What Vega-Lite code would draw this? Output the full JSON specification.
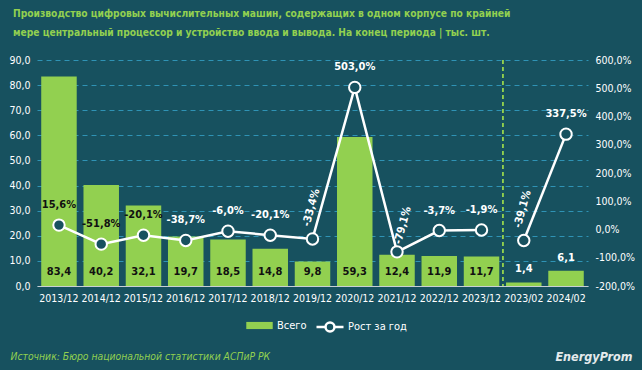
{
  "$schema": "https://vega.github.io/schema/vega-lite/v6.json",
  "autosize": "none",
  "width": 551,
  "height": 226,
  "padding": {"left": 37, "top": 60, "right": 54, "bottom": 84},
  "background": "#17515f",
  "title": {
    "text": ["Производство цифровых вычислительных машин, содержащих в одном корпусе по крайней", "мере центральный процессор и устройство ввода и вывода. На конец периода | тыс. шт."],
    "anchor": "start",
    "frame": "group",
    "dx": -24,
    "offset": 17,
    "font": "DejaVu Sans Condensed, sans-serif",
    "fontSize": 10.2,
    "fontWeight": "bold",
    "color": "#92D050",
    "lineHeight": 19
  },
  "config": {
    "locale": {"number": {"decimal": ",", "thousands": " ", "grouping": [3], "currency": ["", ""], "minus": "-"}},
    "view": {"stroke": null},
    "font": "DejaVu Sans Condensed, sans-serif",
    "axis": {"labelFont": "DejaVu Sans Condensed, sans-serif", "labelColor": "#ffffff", "labelFontSize": 10.5, "ticks": false},
    "legend": {"labelFont": "DejaVu Sans Condensed, sans-serif", "labelColor": "#ffffff", "labelFontSize": 11}
  },
  "data": {"values": [
    {"period": "2013/12", "value": 83.4, "pct": 0.156, "series": "year"},
    {"period": "2014/12", "value": 40.2, "pct": -0.518, "series": "year"},
    {"period": "2015/12", "value": 32.1, "pct": -0.201, "series": "year"},
    {"period": "2016/12", "value": 19.7, "pct": -0.387, "series": "year"},
    {"period": "2017/12", "value": 18.5, "pct": -0.06, "series": "year"},
    {"period": "2018/12", "value": 14.8, "pct": -0.201, "series": "year"},
    {"period": "2019/12", "value": 9.8, "pct": -0.334, "series": "year"},
    {"period": "2020/12", "value": 59.3, "pct": 5.03, "series": "year"},
    {"period": "2021/12", "value": 12.4, "pct": -0.791, "series": "year"},
    {"period": "2022/12", "value": 11.9, "pct": -0.037, "series": "year"},
    {"period": "2023/12", "value": 11.7, "pct": -0.019, "series": "year"},
    {"period": "2023/02", "value": 1.4, "pct": -0.391, "series": "feb"},
    {"period": "2024/02", "value": 6.1, "pct": 3.375, "series": "feb"}
  ]},
  "encoding": {
    "x": {
      "field": "period", "type": "nominal", "sort": null,
      "scale": {"paddingInner": 0.16, "paddingOuter": 0.1},
      "axis": {
        "labelAngle": 0, "labelPadding": 7, "domainColor": "#c8d0d4", "domainWidth": 1,
        "title": "Источник: Бюро национальной статистики АСПиР РК",
        "titleColor": "#92D050", "titleFontStyle": "italic", "titleFontWeight": "normal", "titleFontSize": 10.3,
        "titleX": -27, "titleY": 70, "titleAlign": "left", "titleBaseline": "middle", "titleAnchor": "start",
        "titleFont": "DejaVu Sans Condensed, sans-serif"
      }
    }
  },
  "layer": [
    {
      "encoding": {
        "y": {
          "type": "quantitative",
          "scale": {"domain": [0, 90], "nice": false},
          "axis": {
            "values": [0, 10, 20, 30, 40, 50, 60, 70, 80, 90], "format": ".1f",
            "domain": false, "grid": true, "gridColor": "#2f93b5", "gridDash": [5, 4], "gridWidth": 1,
            "labelPadding": 7, "title": null
          }
        }
      },
      "layer": [
        {
          "mark": {"type": "bar", "color": "#92D050"},
          "encoding": {
            "y": {"field": "value"},
            "color": {
              "datum": "Всего",
              "scale": {"range": ["#92D050"]},
              "legend": {
                "title": null, "orient": "none", "legendX": 209, "legendY": 252,
                "symbolType": "M-1,-0.27H1V0.27H-1Z", "symbolSize": 700, "symbolStrokeWidth": 0,
                "labelOffset": 4
              }
            }
          }
        },
        {
          "transform": [{"filter": "indexof(datum.period, '/12') >= 0"}],
          "mark": {"type": "text", "fontSize": 11, "fontWeight": "bold", "color": "#111111", "baseline": "middle", "dy": -14},
          "encoding": {
            "y": {"datum": 0},
            "text": {"field": "value", "format": ".1f"}
          }
        },
        {
          "transform": [{"filter": "indexof(datum.period, '/02') >= 0"}],
          "mark": {"type": "text", "fontSize": 11, "fontWeight": "bold", "color": "#ffffff", "baseline": "middle", "dy": -13},
          "encoding": {
            "y": {"field": "value"},
            "text": {"field": "value", "format": ".1f"}
          }
        },
        {
          "mark": {"type": "rule", "color": "#92D050", "strokeDash": [4, 3], "strokeWidth": 1},
          "encoding": {
            "x": {"datum": "2023/02", "bandPosition": -0.095}
          }
        }
      ]
    },
    {
      "encoding": {
        "y": {
          "type": "quantitative",
          "scale": {"domain": [-2, 6], "nice": false},
          "axis": {
            "orient": "right",
            "values": [-2, -1, 0, 1, 2, 3, 4, 5, 6], "format": ".1%",
            "domain": false, "grid": false, "labelPadding": 7,
            "title": "EnergyProm", "titleAngle": 0, "titleX": 44, "titleY": 296, "titleAlign": "right", "titleBaseline": "middle",
            "titleColor": "#e4eaec", "titleFontSize": 12.5, "titleFontStyle": "italic", "titleFontWeight": "bold",
            "titleFont": "DejaVu Sans Condensed, sans-serif"
          }
        }
      },
      "layer": [
        {
          "mark": {"type": "line", "color": "#ffffff", "strokeWidth": 2.5},
          "encoding": {
            "y": {"field": "pct"},
            "detail": {"field": "series"},
            "stroke": {
              "datum": "Рост за год",
              "scale": {"range": ["#ffffff"]},
              "legend": {
                "title": null, "orient": "none", "legendX": 278, "legendY": 252,
                "symbolType": "M-1,0H-0.33M0.33,0H1M0.33,0A0.33,0.33,0,1,1,-0.33,0A0.33,0.33,0,1,1,0.33,0",
                "symbolSize": 729, "symbolStrokeWidth": 2.5, "symbolStrokeColor": "#ffffff", "symbolFillColor": "#17515f",
                "labelOffset": 3
              }
            }
          }
        },
        {
          "mark": {"type": "point", "filled": true, "fill": "#17515f", "stroke": "#ffffff", "strokeWidth": 2, "size": 130, "opacity": 1},
          "encoding": {"y": {"field": "pct"}}
        },
        {
          "transform": [{"filter": "indexof(['2019/12', '2021/12', '2023/02'], datum.period) < 0"}],
          "mark": {"type": "text", "fontSize": 11, "fontWeight": "bold", "baseline": "middle", "dy": -20},
          "encoding": {
            "y": {"field": "pct"},
            "text": {"field": "pct", "format": ".1%"},
            "color": {
              "condition": {"test": "datum.value / 90 * 8 - 2 > datum.pct + 0.35", "value": "#111111"},
              "value": "#ffffff"
            }
          }
        },
        {
          "transform": [{"filter": "indexof(['2019/12', '2023/02'], datum.period) >= 0"}],
          "mark": {"type": "text", "fontSize": 11, "fontWeight": "bold", "baseline": "middle", "align": "center", "angle": 285, "dx": 30, "dy": -9, "color": "#ffffff"},
          "encoding": {
            "y": {"field": "pct"},
            "text": {"field": "pct", "format": ".1%"}
          }
        },
        {
          "transform": [{"filter": "datum.period == '2021/12'"}],
          "mark": {"type": "text", "fontSize": 11, "fontWeight": "bold", "baseline": "middle", "align": "center", "angle": 285, "dx": 27, "dy": -1, "color": "#ffffff"},
          "encoding": {
            "y": {"field": "pct"},
            "text": {"field": "pct", "format": ".1%"}
          }
        }
      ]
    }
  ],
  "resolve": {"scale": {"y": "independent"}}
}
